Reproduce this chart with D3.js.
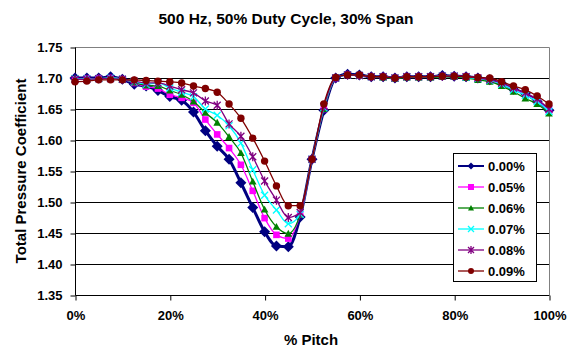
<!DOCTYPE html>
<html>
<head>
<meta charset="utf-8">
<script src="https://cdn.jsdelivr.net/npm/d3@7"></script>
<style>
  body { margin: 0; background: #fff; }
  text { font-family: Arial, "Liberation Sans", sans-serif; font-weight: bold; fill: #000; }
</style>
</head>
<body>
<svg id="chart" width="570" height="348"></svg>
<script>
// % pitch positions, every 2.5%
var pitch = d3.range(0, 41).map(function (i) { return i * 2.5; });

var seriesNames = ['0.00%', '0.05%', '0.06%', '0.07%', '0.08%', '0.09%'];

var s000 = [1.700, 1.700, 1.700, 1.702, 1.698, 1.690, 1.687, 1.680, 1.670, 1.664,
            1.645, 1.615, 1.590, 1.569, 1.531, 1.491, 1.452, 1.429, 1.428, 1.476,
            1.569, 1.648, 1.700, 1.706, 1.705, 1.702, 1.702, 1.700, 1.702, 1.702,
            1.702, 1.704, 1.703, 1.702, 1.700, 1.697, 1.691, 1.682, 1.675, 1.662, 1.648];
var s005 = [1.698, 1.699, 1.699, 1.700, 1.698, 1.692, 1.686, 1.683, 1.673, 1.668,
            1.660, 1.633, 1.609, 1.587, 1.560, 1.518, 1.474, 1.447, 1.441, 1.480,
            1.569, 1.650, 1.700, 1.705, 1.704, 1.702, 1.702, 1.700, 1.702, 1.702,
            1.702, 1.703, 1.703, 1.702, 1.700, 1.696, 1.690, 1.682, 1.673, 1.663, 1.647];
var s006 = [1.699, 1.699, 1.699, 1.700, 1.698, 1.693, 1.688, 1.687, 1.680, 1.673,
            1.662, 1.644, 1.628, 1.605, 1.579, 1.533, 1.488, 1.460, 1.449, 1.480,
            1.569, 1.650, 1.700, 1.705, 1.704, 1.702, 1.701, 1.699, 1.701, 1.701,
            1.701, 1.702, 1.702, 1.700, 1.697, 1.694, 1.687, 1.678, 1.667, 1.658, 1.643];
var s007 = [1.699, 1.699, 1.699, 1.700, 1.698, 1.694, 1.690, 1.692, 1.684, 1.677,
            1.670, 1.650, 1.640, 1.623, 1.595, 1.552, 1.511, 1.487, 1.465, 1.480,
            1.569, 1.652, 1.700, 1.705, 1.704, 1.702, 1.702, 1.700, 1.702, 1.702,
            1.702, 1.703, 1.703, 1.701, 1.699, 1.696, 1.690, 1.681, 1.672, 1.662, 1.646];
var s008 = [1.698, 1.698, 1.699, 1.699, 1.698, 1.695, 1.692, 1.692, 1.687, 1.681,
            1.676, 1.663, 1.656, 1.626, 1.606, 1.573, 1.534, 1.503, 1.475, 1.483,
            1.569, 1.654, 1.700, 1.705, 1.704, 1.702, 1.702, 1.700, 1.702, 1.702,
            1.702, 1.703, 1.703, 1.702, 1.700, 1.697, 1.692, 1.684, 1.676, 1.666, 1.650];
var s009 = [1.694, 1.695, 1.697, 1.697, 1.697, 1.697, 1.696, 1.695, 1.694, 1.692,
            1.687, 1.683, 1.677, 1.658, 1.635, 1.603, 1.566, 1.526, 1.494, 1.494,
            1.569, 1.658, 1.701, 1.705, 1.705, 1.702, 1.702, 1.700, 1.702, 1.702,
            1.702, 1.703, 1.703, 1.702, 1.701, 1.700, 1.694, 1.687, 1.681, 1.671, 1.658];

var seriesValues = [s000, s005, s006, s007, s008, s009];

var xTicks = [0, 20, 40, 60, 80, 100];
var yTicks = [1.35, 1.40, 1.45, 1.50, 1.55, 1.60, 1.65, 1.70, 1.75];

// size = half-extent of the marker in px
var styles = [
  { color: '#000080', width: 3,   marker: 'diamond',  size: 5.5 },
  { color: '#FF00FF', width: 1.3, marker: 'square',   size: 3.3 },
  { color: '#008000', width: 1.3, marker: 'triangle', size: 3.8 },
  { color: '#00FFFF', width: 1.3, marker: 'cross',    size: 3.5 },
  { color: '#800080', width: 1.3, marker: 'star',     size: 3.5 },
  { color: '#800000', width: 1.3, marker: 'circle',   size: 3.7 }
];

var svg = d3.select('#chart');
var plotL = 75, plotR = 549, plotT = 47, plotB = 295;

var x = d3.scaleLinear().domain([0, 100]).range([plotL, plotR]);
var y = d3.scaleLinear().domain([1.35, 1.75]).range([plotB, plotT]);

// title
svg.append('text')
  .attr('x', 286).attr('y', 24)
  .attr('text-anchor', 'middle')
  .style('font-size', '15.5px')
  .text('500 Hz, 50% Duty Cycle, 30% Span');

// gridlines
svg.append('g').selectAll('line').data(yTicks.slice(1, -1))
  .enter().append('line')
    .attr('x1', plotL).attr('x2', plotR)
    .attr('y1', function (d) { return Math.round(y(d)) + 0.5; })
    .attr('y2', function (d) { return Math.round(y(d)) + 0.5; })
    .attr('stroke', '#000').attr('stroke-width', 1);

// plot border (top, right)
svg.append('path')
  .attr('d', 'M' + plotL + ',' + (plotT + 0.5) + 'H' + (plotR + 0.5) + 'V' + plotB)
  .attr('fill', 'none').attr('stroke', '#808080').attr('stroke-width', 1);

// axes
var yAxis = svg.append('g')
  .attr('transform', 'translate(' + (plotL + 0.5) + ',0.5)')
  .call(d3.axisLeft(y).tickValues(yTicks).tickFormat(d3.format('.2f')).tickSize(5).tickPadding(8));
var xAxis = svg.append('g')
  .attr('transform', 'translate(0.5,' + (plotB + 0.5) + ')')
  .call(d3.axisBottom(x).tickValues(xTicks).tickFormat(function (d) { return d + '%'; }).tickSize(5).tickPadding(10));

[yAxis, xAxis].forEach(function (ax) {
  ax.select('.domain').attr('stroke', '#000');
  ax.selectAll('.tick line').attr('stroke', '#000');
  ax.selectAll('.tick text')
    .style('font-size', '13px')
    .style('font-family', 'Arial, "Liberation Sans", sans-serif')
    .style('font-weight', 'bold')
    .attr('fill', '#000');
});
yAxis.select('.domain').attr('d', 'M0,' + plotT + 'V' + plotB);
xAxis.select('.domain').attr('d', 'M' + plotL + ',0H' + plotR);

// axis titles
svg.append('text')
  .attr('x', 311).attr('y', 345)
  .attr('text-anchor', 'middle')
  .style('font-size', '15px')
  .text('% Pitch');
svg.append('text')
  .attr('transform', 'translate(26,' + ((plotT + plotB) / 2) + ') rotate(-90)')
  .attr('text-anchor', 'middle')
  .style('font-size', '15px')
  .text('Total Pressure Coefficient');

function drawMarker(sel, st) {
  var r = st.size, d;
  if (st.marker === 'cross' || st.marker === 'star') {
    d = 'M' + (-r) + ',' + (-r) + 'L' + r + ',' + r + 'M' + (-r) + ',' + r + 'L' + r + ',' + (-r);
    if (st.marker === 'star') d += 'M0,' + (-r - 1) + 'L0,' + (r + 1);
    sel.append('path').attr('d', d)
      .attr('stroke', st.color).attr('stroke-width', 1.3).attr('fill', 'none');
    return;
  }
  if (st.marker === 'circle') {
    sel.append('circle').attr('r', r).attr('fill', st.color);
    return;
  }
  if (st.marker === 'diamond') {
    d = 'M0,' + (-r) + 'L' + r + ',0L0,' + r + 'L' + (-r) + ',0Z';
  } else if (st.marker === 'square') {
    d = 'M' + (-r) + ',' + (-r) + 'H' + r + 'V' + r + 'H' + (-r) + 'Z';
  } else {
    d = 'M0,' + (-r) + 'L' + r + ',' + (r * 0.8) + 'H' + (-r) + 'Z';
  }
  sel.append('path').attr('d', d).attr('fill', st.color);
}

var line = d3.line()
  .x(function (d, i) { return x(pitch[i]); })
  .y(function (d) { return y(d); })
  .curve(d3.curveMonotoneX);

seriesValues.forEach(function (vals, k) {
  var st = styles[k];
  var g = svg.append('g').attr('class', 'series');
  g.append('path')
    .attr('d', line(vals))
    .attr('fill', 'none')
    .attr('stroke', st.color)
    .attr('stroke-width', st.width);
  g.selectAll('g.pt').data(vals)
    .enter().append('g')
      .attr('class', 'pt')
      .attr('transform', function (d, i) { return 'translate(' + x(pitch[i]) + ',' + y(d) + ')'; })
      .each(function () { drawMarker(d3.select(this), st); });
});

// legend
var lg = svg.append('g').attr('transform', 'translate(453,153)');
lg.append('rect')
  .attr('x', 0.5).attr('y', 0.5).attr('width', 83).attr('height', 128)
  .attr('fill', '#fff').attr('stroke', '#000').attr('stroke-width', 1);
seriesNames.forEach(function (name, k) {
  var st = styles[k];
  var cy = 13 + k * 21;
  var row = lg.append('g');
  row.append('line')
    .attr('x1', 5).attr('x2', 31).attr('y1', cy).attr('y2', cy)
    .attr('stroke', st.color).attr('stroke-width', k === 0 ? 2 : 1.3);
  var m = row.append('g').attr('transform', 'translate(18,' + cy + ')');
  drawMarker(m, { color: st.color, marker: st.marker, size: k === 0 ? 3.5 : Math.min(st.size, 3) });
  row.append('text')
    .attr('x', 35).attr('y', cy + 5)
    .style('font-size', '13px')
    .text(name);
});
</script>
</body>
</html>
